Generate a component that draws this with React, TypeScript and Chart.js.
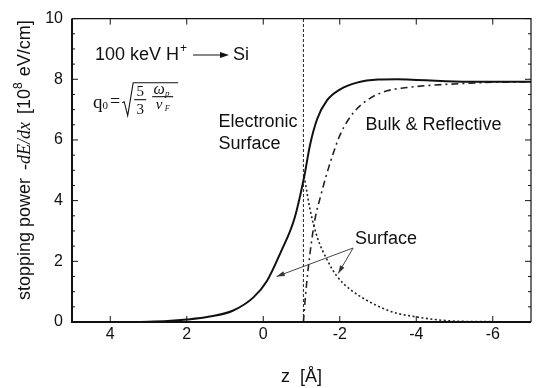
import React, { useEffect, useRef } from "react";
import { Chart, registerables } from "chart.js";

Chart.register(...registerables);

// Electronic surface (solid, total) stopping power vs z
const totalZ = [5, 4, 3, 2.5, 2, 1.4, 0.8, 0.25, -0.1, -0.45, -0.82, -1.08, -1.22, -1.41, -1.67, -2, -2.45, -3, -3.5, -4, -4.5, -5, -6, -7];
const totalE = [0, 0, 0.01, 0.03, 0.08, 0.18, 0.37, 0.82, 1.36, 2.28, 3.43, 4.85, 5.82, 6.69, 7.31, 7.66, 7.89, 7.99, 8.0, 7.98, 7.95, 7.93, 7.92, 7.92];

// Surface contribution inside the solid (dotted)
const surfZ = [-1.07, -1.23, -1.41, -1.67, -1.93, -2.28, -2.8, -3.4, -3.85, -4.5, -5, -6, -7];
const surfE = [4.8, 3.67, 2.8, 2.05, 1.5, 1.07, 0.65, 0.32, 0.2, 0.08, 0.03, 0.01, 0];

// Bulk & Reflective (dash-dot)
const bulkZ = [-1.05, -1.1, -1.17, -1.34, -1.5, -1.76, -2.02, -2.36, -2.8, -3.24, -3.7, -4.37, -5.23, -6, -7];
const bulkE = [0, 0.8, 1.7, 3.3, 4.15, 5.29, 6.2, 6.9, 7.38, 7.62, 7.72, 7.8, 7.86, 7.9, 7.92];

const xTicks = [4, 2, 0, -2, -4, -6];
const yTicks = [0, 2, 4, 6, 8, 10];
const interfaceZ = -1.05;

const SANS = '"Liberation Sans", Arial, sans-serif';
const SERIF = '"Liberation Serif", "Times New Roman", serif';

const pts = (zs: number[], es: number[]) => zs.map((z, i) => ({ x: z, y: es[i] }));

const decor = {
  id: "decor",
  beforeDatasetsDraw(chart: any) {
    const { ctx, scales } = chart;
    const x = scales.x, y = scales.y;
    ctx.save();
    ctx.strokeStyle = "#222";
    ctx.lineWidth = 1;
    ctx.setLineDash([3, 2]);
    ctx.beginPath();
    ctx.moveTo(x.getPixelForValue(interfaceZ), y.getPixelForValue(0));
    ctx.lineTo(x.getPixelForValue(interfaceZ), y.getPixelForValue(10));
    ctx.stroke();
    ctx.restore();
  },
  afterDraw(chart: any) {
    const { ctx, chartArea: a, scales } = chart;
    const x = scales.x, y = scales.y;
    const X = (v: number) => x.getPixelForValue(v);
    const Y = (v: number) => y.getPixelForValue(v);
    ctx.save();
    ctx.setLineDash([]);
    ctx.strokeStyle = "#111";
    // frame
    ctx.lineWidth = 2;
    ctx.beginPath();
    ctx.moveTo(a.left, a.top);
    ctx.lineTo(a.left, a.bottom);
    ctx.lineTo(a.right, a.bottom);
    ctx.stroke();
    ctx.lineWidth = 1.2;
    ctx.beginPath();
    ctx.moveTo(a.left, a.top);
    ctx.lineTo(a.right, a.top);
    ctx.lineTo(a.right, a.bottom);
    ctx.stroke();
    // ticks
    ctx.lineWidth = 1;
    ctx.beginPath();
    for (const t of xTicks) {
      const px = X(t);
      ctx.moveTo(px, a.bottom);
      ctx.lineTo(px, a.bottom - 6);
      ctx.moveTo(px, a.top);
      ctx.lineTo(px, a.top + 6);
    }
    for (let v = 0; v <= 10.001; v += 0.5) {
      const py = Y(v);
      const major = yTicks.some((t) => Math.abs(t - v) < 1e-6);
      const len = major ? 6 : 3;
      ctx.moveTo(a.left, py);
      ctx.lineTo(a.left + len, py);
      ctx.moveTo(a.right, py);
      ctx.lineTo(a.right - len, py);
    }
    ctx.stroke();

    ctx.fillStyle = "#111";
    ctx.textBaseline = "middle";
    ctx.textAlign = "left";

    // 100 keV H+ -> Si
    let cx = X(4.4);
    const cy = Y(8.8);
    ctx.font = `18px ${SANS}`;
    ctx.fillText("100 keV H", cx, cy);
    cx += ctx.measureText("100 keV H").width + 1;
    ctx.font = `12px ${SANS}`;
    ctx.fillText("+", cx, cy - 6);
    cx += ctx.measureText("+").width + 6;
    const arrEnd = cx + 36;
    ctx.lineWidth = 1;
    ctx.beginPath();
    ctx.moveTo(cx, cy);
    ctx.lineTo(arrEnd - 6, cy);
    ctx.stroke();
    ctx.beginPath();
    ctx.moveTo(arrEnd, cy);
    ctx.lineTo(arrEnd - 9, cy - 3);
    ctx.lineTo(arrEnd - 9, cy + 3);
    ctx.closePath();
    ctx.fill();
    ctx.font = `18px ${SANS}`;
    ctx.fillText("Si", arrEnd + 4, cy);

    // q0 = sqrt(5/3) wp / vF
    const bx = X(4.45);
    const by = Y(7.13);
    ctx.textBaseline = "alphabetic";
    ctx.font = `19px ${SERIF}`;
    ctx.fillText("q", bx, by + 2);
    let qx = bx + ctx.measureText("q").width;
    ctx.font = `11px ${SERIF}`;
    ctx.fillText("0", qx, by + 3);
    qx += ctx.measureText("0").width + 2;
    ctx.font = `18px ${SERIF}`;
    ctx.fillText("=", qx, by + 1);
    qx += ctx.measureText("=").width + 2;
    // radical
    ctx.lineWidth = 1.1;
    ctx.beginPath();
    ctx.moveTo(qx, by - 3);
    ctx.lineTo(qx + 2, by - 4);
    ctx.lineTo(qx + 5.5, by + 10);
    ctx.lineTo(qx + 11, by - 23);
    ctx.lineTo(qx + 56, by - 23);
    ctx.stroke();
    ctx.textAlign = "center";
    ctx.font = `15px ${SERIF}`;
    const f1 = qx + 18;
    ctx.fillText("5", f1, by - 10);
    ctx.fillText("3", f1, by + 8);
    ctx.beginPath();
    ctx.moveTo(f1 - 6, by - 6);
    ctx.lineTo(f1 + 6, by - 6);
    ctx.stroke();
    const f2 = qx + 40;
    ctx.font = `italic 16px ${SERIF}`;
    ctx.fillText("\u03c9", f2 - 3, by - 12);
    ctx.font = `italic 9px ${SERIF}`;
    ctx.fillText("p", f2 + 5, by - 10);
    ctx.font = `italic 15px ${SERIF}`;
    ctx.fillText("v", f2 - 3, by + 3);
    ctx.font = `italic 8px ${SERIF}`;
    ctx.fillText("F", f2 + 5, by + 5);
    ctx.beginPath();
    ctx.moveTo(f2 - 10, by - 9);
    ctx.lineTo(f2 + 11, by - 9);
    ctx.stroke();

    // curve labels
    ctx.textAlign = "left";
    ctx.textBaseline = "middle";
    ctx.font = `18px ${SANS}`;
    ctx.fillText("Electronic", X(1.17), Y(6.6));
    ctx.fillText("Surface", X(1.17), Y(5.88));
    ctx.fillText("Bulk & Reflective", X(-2.67), Y(6.48));
    ctx.fillText("Surface", X(-2.4), Y(2.74));

    // arrows from "Surface"
    const drawArrow = (x0: number, y0: number, x1: number, y1: number) => {
      ctx.strokeStyle = "#333";
      ctx.fillStyle = "#333";
      ctx.lineWidth = 0.9;
      ctx.beginPath();
      ctx.moveTo(x0, y0);
      ctx.lineTo(x1, y1);
      ctx.stroke();
      const ang = Math.atan2(y1 - y0, x1 - x0);
      const L = 8, W = 2.5;
      ctx.beginPath();
      ctx.moveTo(x1, y1);
      ctx.lineTo(x1 - L * Math.cos(ang) + W * Math.sin(ang), y1 - L * Math.sin(ang) - W * Math.cos(ang));
      ctx.lineTo(x1 - L * Math.cos(ang) - W * Math.sin(ang), y1 - L * Math.sin(ang) + W * Math.cos(ang));
      ctx.closePath();
      ctx.fill();
    };
    drawArrow(X(-2.35), Y(2.44), X(-0.35), Y(1.5));
    drawArrow(X(-2.35), Y(2.44), X(-1.96), Y(1.6));

    // axis titles
    ctx.fillStyle = "#111";
    ctx.textAlign = "center";
    ctx.textBaseline = "middle";
    ctx.font = `18px ${SANS}`;
    ctx.fillText("z  [\u00c5]", (a.left + a.right) / 2, 377);

    // y title with mixed fonts
    ctx.save();
    ctx.translate(25, 300);
    ctx.rotate(-Math.PI / 2);
    ctx.textAlign = "left";
    ctx.textBaseline = "middle";
    let tx = 0;
    const seg = (t: string, font: string, dy = 0, gap = 0) => {
      ctx.font = font;
      ctx.fillText(t, tx, dy);
      tx += ctx.measureText(t).width + gap;
    };
    seg("stopping power", `18px ${SANS}`, 0, 8);
    seg("-dE/dx", `italic 18px ${SERIF}`, 0, 8);
    seg("[10", `18px ${SANS}`);
    seg("8", `12px ${SANS}`, -6, 1);
    seg(" eV/cm]", `18px ${SANS}`);
    ctx.restore();

    ctx.restore();
  },
};

export default function App() {
  const ref = useRef<HTMLCanvasElement | null>(null);
  useEffect(() => {
    if (!ref.current) return;
    const chart = new Chart(ref.current, {
      type: "line",
      data: {
        datasets: [
          {
            label: "Electronic Surface",
            data: pts(totalZ, totalE),
            borderColor: "#111",
            borderWidth: 2,
            pointRadius: 0,
            cubicInterpolationMode: "monotone",
            fill: false,
          },
          {
            label: "Surface",
            data: pts(surfZ, surfE),
            borderColor: "#222",
            borderWidth: 1.6,
            borderDash: [2, 2.5],
            pointRadius: 0,
            cubicInterpolationMode: "monotone",
            fill: false,
          },
          {
            label: "Bulk & Reflective",
            data: pts(bulkZ, bulkE),
            borderColor: "#222",
            borderWidth: 1.6,
            borderDash: [7, 4, 2, 4],
            pointRadius: 0,
            cubicInterpolationMode: "monotone",
            fill: false,
          },
        ],
      },
      options: {
        responsive: false,
        animation: false,
        parsing: false as any,
        layout: { padding: { top: 15, right: 9, left: 0, bottom: 0 } },
        plugins: { legend: { display: false }, tooltip: { enabled: false } },
        scales: {
          x: {
            type: "linear",
            min: -7,
            max: 5,
            reverse: true,
            grid: { display: false, drawTicks: false },
            border: { display: false },
            ticks: {
              padding: 3,
              color: "#111",
              font: { family: SANS, size: 16 },
              maxRotation: 0,
              autoSkip: false,
            },
            afterBuildTicks: (s: any) => {
              s.ticks = xTicks.map((v) => ({ value: v }));
            },
            afterFit: (s: any) => {
              s.height = 66;
            },
          },
          y: {
            type: "linear",
            min: 0,
            max: 10,
            grid: { display: false, drawTicks: false },
            border: { display: false },
            ticks: {
              padding: 9,
              color: "#111",
              font: { family: SANS, size: 16 },
            },
            afterBuildTicks: (s: any) => {
              s.ticks = yTicks.map((v) => ({ value: v }));
            },
            afterFit: (s: any) => {
              s.width = 72;
            },
          },
        },
      },
      plugins: [decor],
    } as any);
    return () => chart.destroy();
  }, []);
  return (
    <div style={{ position: "fixed", left: 0, top: 0, width: 540, height: 388, background: "#fff" }}>
      <canvas ref={ref} width={540} height={388} />
    </div>
  );
}
